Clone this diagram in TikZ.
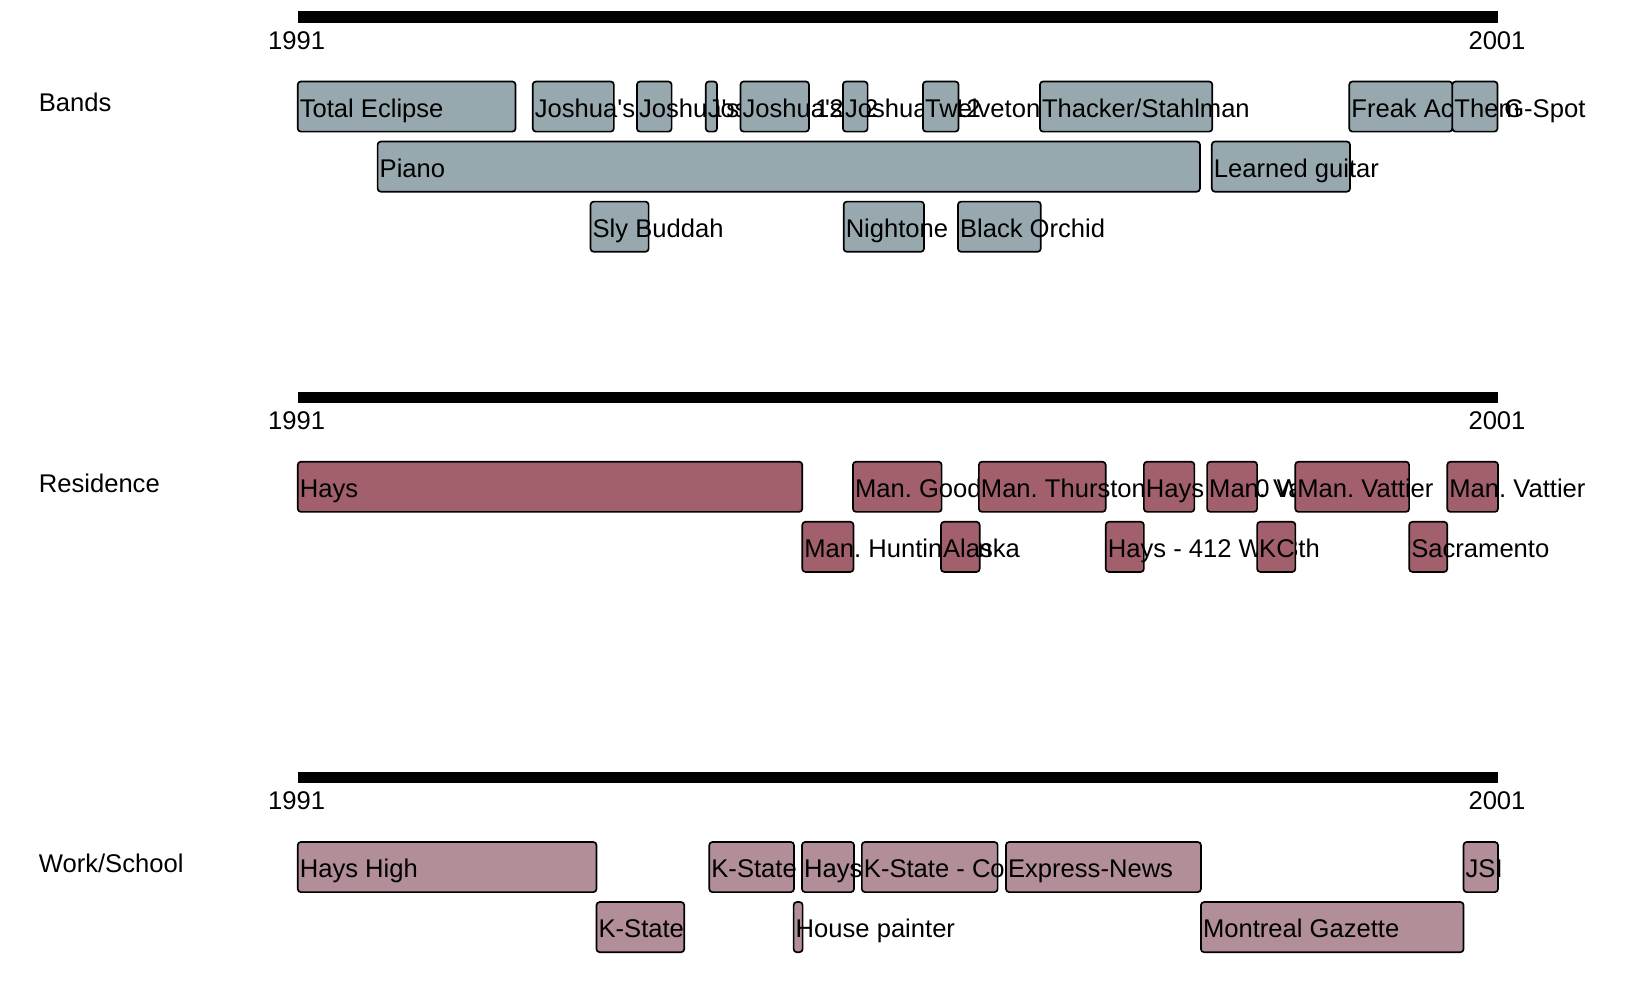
\documentclass[tikz,border=0pt]{standalone}
\usepackage{fontspec}
\setmainfont{Liberation Sans}
\definecolor{bandcol}{HTML}{97A9AF}
\definecolor{rescol}{HTML}{A1606C}
\definecolor{workcol}{HTML}{B18E98}
\newcommand{\tlfont}{\fontsize{24.5}{29}\selectfont}
\newcommand{\qs}{\textquotesingle}
% #1 name, #2 x left, #3 x right, #4 top, #5 style, #6 text
\newcommand{\tlev}[6]{%
  \pgfmathsetmacro{\tlw}{#3-#2}%
  \node[evbox,#5,minimum width=\tlw pt,anchor=north west] (#1) at (#2,#4) {};
  \node[evtext] (#1t) at (#2+2,#4+34) {#6};
}
\frenchspacing
\begin{document}
\frenchspacing
\begin{tikzpicture}[x=1pt,y=-1pt,
  evbox/.style={draw=black,line width=1.6pt,rounded corners=3pt,minimum height=48pt,inner sep=0pt,outer sep=0pt},
  band/.style={fill=bandcol},
  res/.style={fill=rescol},
  work/.style={fill=workcol},
  evtext/.style={inner sep=0pt,outer sep=0pt,font=\tlfont\frenchspacing,text=black,anchor=base west},
  yearlbl/.style={inner sep=0pt,font=\tlfont,anchor=base},
  seclbl/.style={inner sep=0pt,font=\tlfont,anchor=base west},
  bar/.style={line width=11pt,draw=black}]
\useasboundingbox (0,0) rectangle (1568,959);

% ---------- timelines ----------
\coordinate (t1s) at (285,16.5); \coordinate (t1e) at (1434,16.5);
\coordinate (t2s) at (285,380.5); \coordinate (t2e) at (1434,380.5);
\coordinate (t3s) at (285,744.5); \coordinate (t3e) at (1434,744.5);
\draw[bar] (t1s) -- (t1e);
\draw[bar] (t2s) -- (t2e);
\draw[bar] (t3s) -- (t3e);
\node[yearlbl] (y1a) at (284,47) {1991};
\node[yearlbl] (y1b) at (1433,47) {2001};
\node[yearlbl] (y2a) at (284,411) {1991};
\node[yearlbl] (y2b) at (1433,411) {2001};
\node[yearlbl] (y3a) at (284,775) {1991};
\node[yearlbl] (y3b) at (1433,775) {2001};

\node[seclbl] (lbands) at (37,107) {Bands};
\node[seclbl] (lres) at (37,471) {Residence};
\node[seclbl] (lwork) at (37,835) {Work/School};

% ---------- Bands ----------
\tlev{ba}{285}{493.5}{78}{band}{Total Eclipse}
\tlev{bb}{510}{587.6}{78}{band}{Joshua\qs s}
\tlev{bc}{609.7}{642.9}{78}{band}{Joshua\qs s 12}
\tlev{bd}{675.6}{686.4}{78}{band}{Joshua\qs s 12}
\tlev{be}{708.8}{774.4}{78}{band}{Joshua\qs s 12}
\tlev{bf}{806.9}{830.5}{78}{band}{Joshua\qs s 12}
\tlev{bg}{883.5}{917.6}{78}{band}{Twelveton}
\tlev{bh}{995.5}{1160.5}{78}{band}{Thacker/Stahlman}
\tlev{bi}{1291.6}{1390.3}{78}{band}{Freak Ac}
\tlev{bj}{1390.3}{1433.5}{78}{band}{Them}
\node[evtext] (bk) at (1440,112) {G-Spot};

\tlev{bp}{361.5}{1148.7}{135.5}{band}{Piano}
\tlev{bl}{1160}{1292.3}{135.5}{band}{Learned guitar}

\tlev{bs}{565.3}{620.9}{193}{band}{Sly Buddah}
\tlev{bn}{807.6}{884.5}{193}{band}{Nightone}
\tlev{bo}{917}{996.3}{193}{band}{Black Orchid}

% ---------- Residence ----------
\tlev{ra}{285}{768}{442}{res}{Hays}
\tlev{rb}{816.5}{901.4}{442}{res}{Man. Goodnow}
\tlev{rc}{937}{1058.4}{442}{res}{Man. Thurston}
\tlev{rd}{1095}{1143.3}{442}{res}{Hays - 410 W}
\tlev{re}{1155.5}{1203.4}{442}{res}{Man. Vattier}
\tlev{rf}{1239.9}{1348.9}{442}{res}{Man. Vattier}
\tlev{rg}{1385.4}{1434}{442}{res}{Man. Vattier}

\tlev{rh}{768}{817}{499.5}{res}{Man. Huntington}
\tlev{ri}{900.8}{937.8}{499.5}{res}{Alaska}
\tlev{rj}{1058.5}{1095}{499.5}{res}{Hays - 412 W 13th}
\tlev{rk}{1203.4}{1240}{499.5}{res}{KC}
\tlev{rl}{1349}{1385.4}{499.5}{res}{Sacramento}

% ---------- Work/School ----------
\tlev{wa}{285}{571}{806}{work}{Hays High}
\tlev{wb}{679}{760}{806}{work}{K-State}
\tlev{wc}{767.7}{817.5}{806}{work}{Hays}
\tlev{wd}{825}{955}{806}{work}{K-State - Collegian}
\tlev{we}{963}{1149.6}{806}{work}{Express-News}
\tlev{wf}{1401}{1434}{806}{work}{JSI}

\tlev{wg}{571}{655}{863.5}{work}{K-State}
\tlev{wh}{759.7}{768.3}{863.5}{work}{House painter}
\tlev{wi}{1149.6}{1401}{863.5}{work}{Montreal Gazette}
\end{tikzpicture}
\end{document}
